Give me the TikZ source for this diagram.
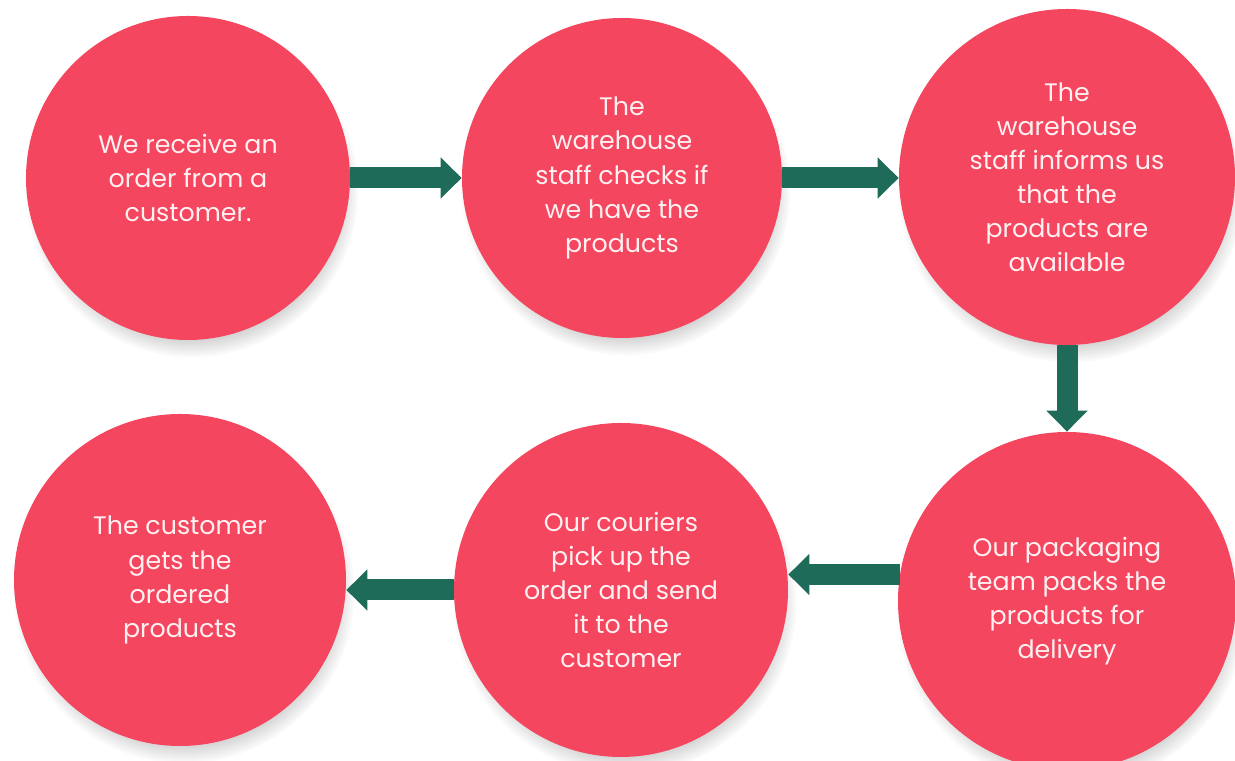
\documentclass[tikz,border=0pt]{standalone}
\usepackage{fontspec}
\setmainfont{Poppins}
\usepackage{tikz}
\usetikzlibrary{positioning}
\usetikzlibrary{arrows.meta, shadows, calc}
\definecolor{stepred}{HTML}{F4465F}
\definecolor{pinegreen}{HTML}{1E6B59}
\definecolor{softwhite}{HTML}{FFF0F2}
\tikzstyle{stepcircle} = [circle, fill=stepred, text=softwhite, align=center, inner sep=0pt, font=\fontsize{14.4}{19.4}\selectfont, circular drop shadow={shadow xshift=2pt, shadow yshift=-7pt, shadow scale=1.03, opacity=0.45}]
\tikzstyle{arrow} = [pinegreen, line width=0.42cm, -{Triangle[width=0.8cm, length=0.42cm]}]

\begin{document}
\begin{tikzpicture}
      \useasboundingbox (0,0) rectangle (24.7,15.22);
      \node[stepcircle, minimum size=6.48cm] (c1) at (3.76,11.66) {We receive an\\order from a\\customer.};
      \node[stepcircle, minimum size=6.4cm] (c2) at (12.44,11.66) {The\\warehouse\\staff checks if\\we have the\\products};
      \node[stepcircle, minimum size=6.72cm] (c3) at (21.34,11.68) {The\\warehouse\\staff informs us\\that the\\products are\\available};
      \node[stepcircle, minimum size=6.64cm] (c4) at (3.6,3.62) {The customer\\gets the\\ordered\\products};
      \node[stepcircle, minimum size=6.68cm] (c5) at (12.42,3.42) {Our couriers\\pick up the\\order and send\\it to the\\customer};
      \node[stepcircle, minimum size=6.76cm] (c6) at (21.34,3.2) {Our packaging\\team packs the\\products for\\delivery};
      %\draw[arrow] (c1)--(c2);
      \draw[arrow] (c1.east)--(c2.west);
      \draw[arrow] (c2.east)--(c2.east -| c3.west);
      \draw[arrow] (c3.south)--(c6.north);
      \draw[arrow] (c6.171)--(c6.171 -| c5.east);
      \draw[arrow] (c5.west)--(c5.west -| c4.east);
      \end{tikzpicture}
\end{document}
